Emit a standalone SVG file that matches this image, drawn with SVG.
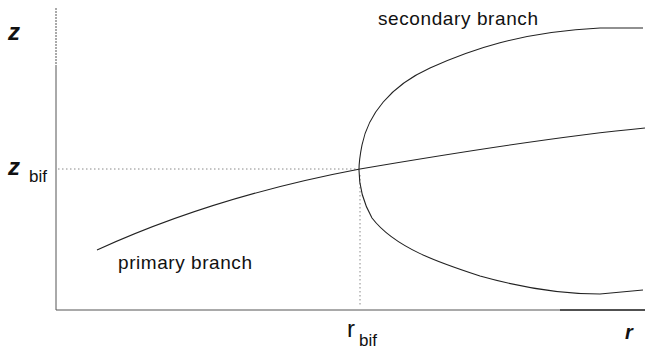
<svg xmlns="http://www.w3.org/2000/svg" width="645" height="352" viewBox="0 0 645 352">
<style>
.curve{fill:none;stroke:#222;stroke-width:1.1}
.axis{fill:none;stroke:#555;stroke-width:1}
.guide{fill:none;stroke:#888;stroke-width:1;stroke-dasharray:1.5 2.5}
.lbl{font-family:"Liberation Sans",Arial,sans-serif;fill:#111}
.var{font-family:"Liberation Sans",Arial,sans-serif;font-style:italic;font-weight:bold;fill:#111}
</style>
<rect width="645" height="352" fill="#fff"/>
<g id="axes">
<line class="axis" x1="56" y1="8" x2="56" y2="66" stroke="#aaa" stroke-dasharray="2 1"/>
<line class="axis" x1="56" y1="66" x2="56" y2="310"/>
<line class="axis" x1="56" y1="310" x2="645" y2="310"/>
<line x1="560" y1="310" x2="645" y2="310" stroke="#333" stroke-width="1.6"/>
</g>
<g id="guides">
<line class="guide" x1="58" y1="169" x2="358" y2="169"/>
<line class="guide" x1="360" y1="175" x2="360" y2="306"/>
</g>
<g id="primary-branch">
<path class="curve" d="M97,250 C180,212 270,186 360,169 C460,152 560,136 645,128"/>
</g>
<g id="secondary-branch">
<path class="curve" d="M600,28 L643,28"/>
<path class="curve" d="M600,28 C520,32 470,50 430,68 C390,86 368,115 362,145 Q359,160 359,170 Q359,195 372,218 C395,248 440,263 480,276 C530,290 570,294 600,294 L643,290"/>
</g>
<g id="labels">
<text class="var" x="8" y="40" font-size="24">z</text>
<text class="var" x="8" y="175" font-size="24">z</text>
<text class="lbl" x="29" y="182" font-size="17">bif</text>
<text class="lbl" x="347" y="337" font-size="24">r</text>
<text class="lbl" x="359" y="346" font-size="17">bif</text>
<text class="var" x="625" y="339" font-size="20">r</text>
<text class="lbl" x="378" y="25" font-size="19" textLength="160">secondary branch</text>
<text class="lbl" x="118" y="269" font-size="19" textLength="134">primary branch</text>
</g>
</svg>
